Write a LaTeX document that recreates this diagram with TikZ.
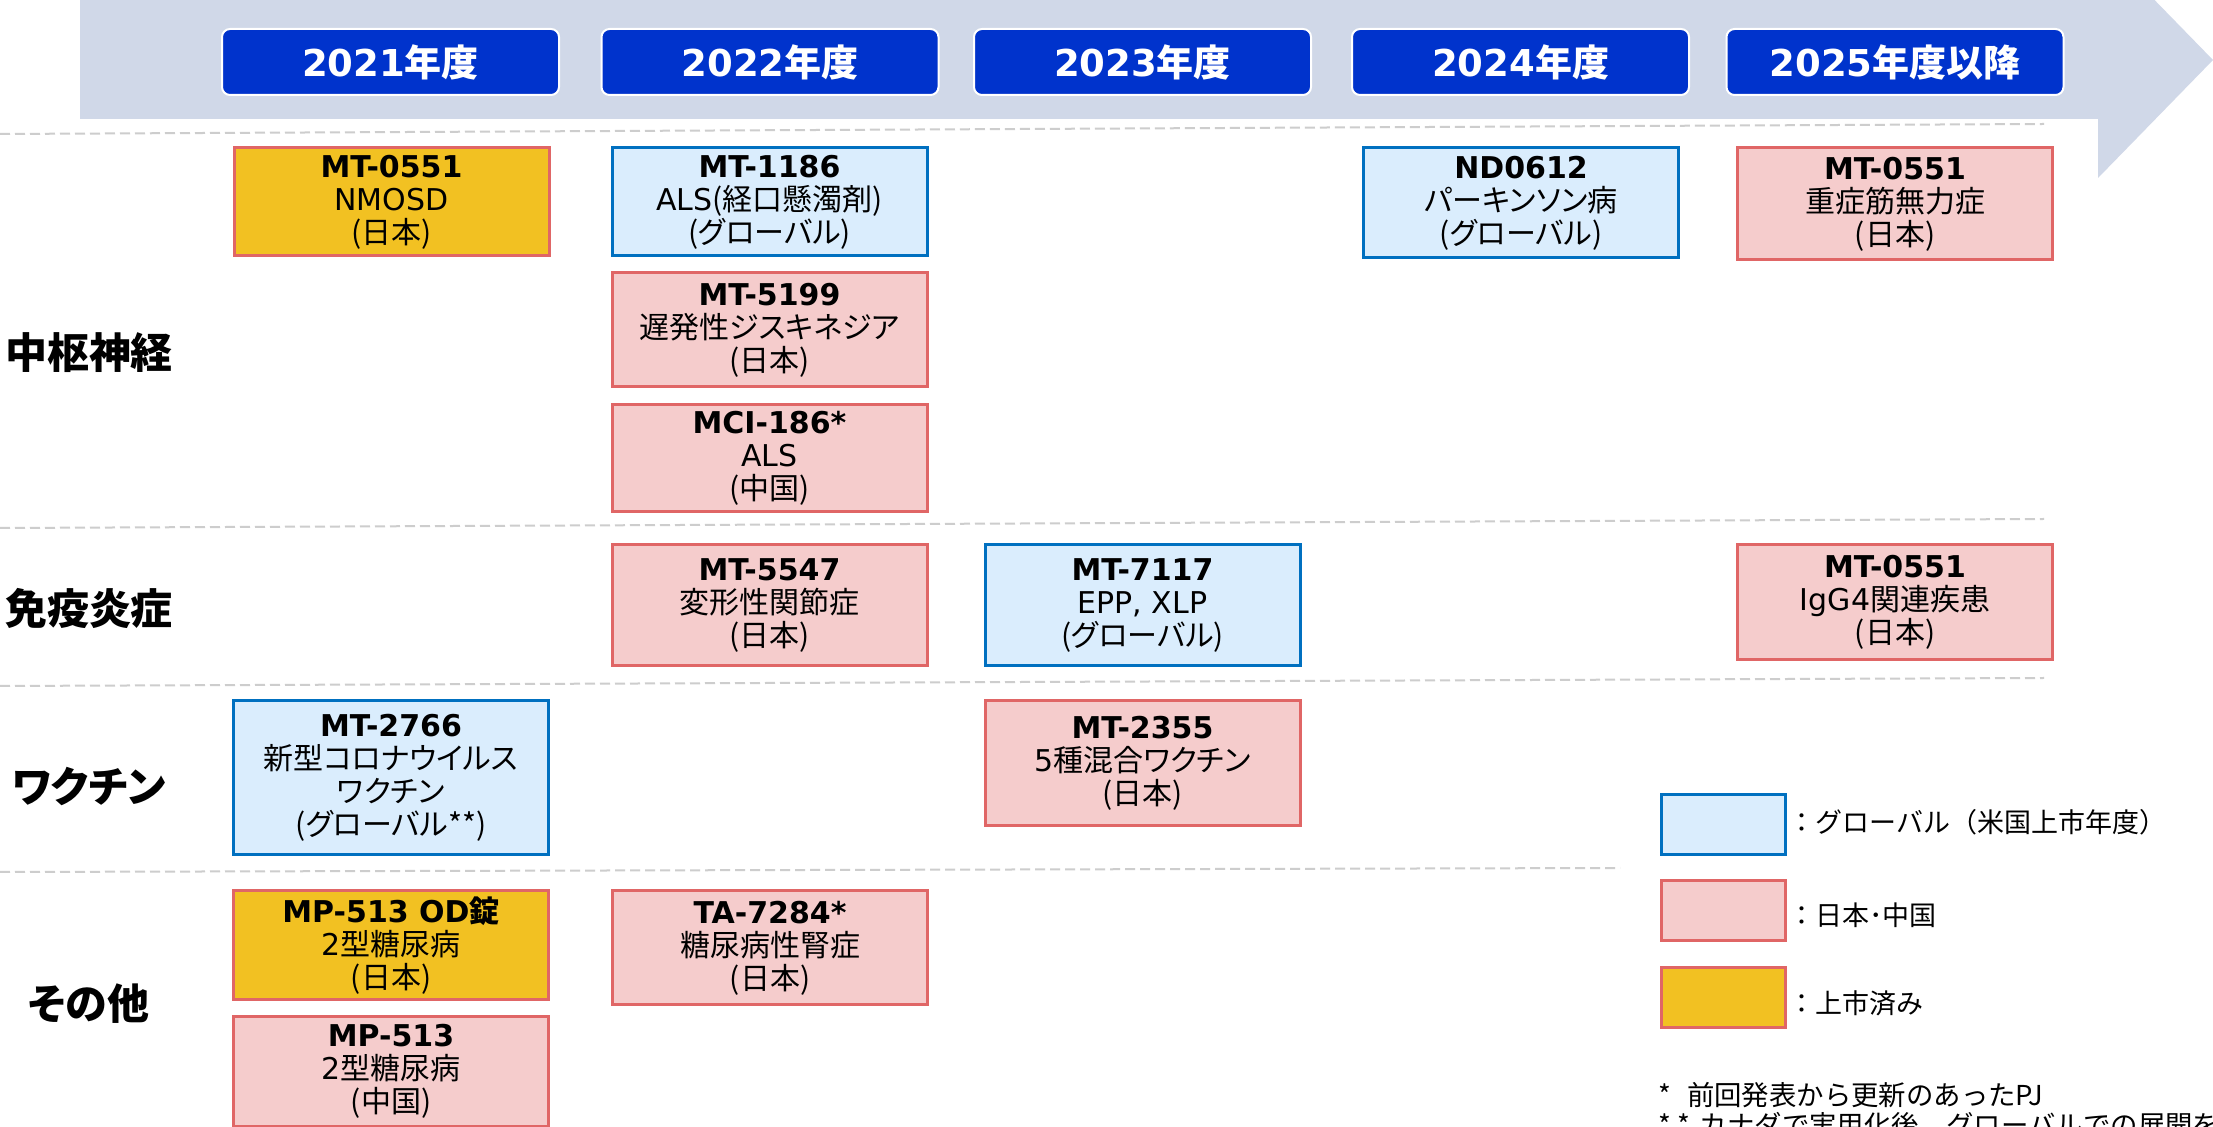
\documentclass[tikz,border=0pt]{standalone}
\usepackage{fontspec}
\setmainfont{DejaVu Sans}
\newfontfamily\jp{Noto Sans CJK JP}[RawFeature=+palt]
\newfontfamily\jpf{Noto Sans CJK JP}
\definecolor{band}{RGB}{208,216,232}
\definecolor{yearblue}{RGB}{0,51,204}
\definecolor{gfill}{RGB}{218,237,253}
\definecolor{gline}{RGB}{0,112,192}
\definecolor{pfill}{RGB}{245,204,204}
\definecolor{pline}{RGB}{224,102,102}
\definecolor{yfill}{RGB}{242,193,34}
\definecolor{dashgray}{RGB}{205,205,205}
\begin{document}
\begin{tikzpicture}[x=0.5pt,y=-0.5pt,
  yearbox/.style={draw=white, line width=1pt, fill=yearblue, rounded corners=4pt,
    minimum width=168.5pt, minimum height=33pt, text=white, inner sep=0pt,
    font=\bfseries\fontsize{18.5}{20}\selectfont},
  sep/.style={draw=dashgray, line width=1pt, dash pattern=on 5pt off 2.5pt},
  catlabel/.style={font=\jp\bfseries\fontsize{21}{24}\selectfont, inner sep=0pt},
  cbox/.style={line width=1.5pt, align=center, inner sep=0pt, minimum width=157.5pt,
    font=\fontsize{15}{16.5}\selectfont},
  pbox/.style={cbox, draw=pline, fill=pfill},
  gbox/.style={cbox, draw=gline, fill=gfill},
  ybox/.style={cbox, draw=pline, fill=yfill},
  legbox/.style={line width=1.5pt, minimum width=62pt, minimum height=30pt, inner sep=0pt},
  legtext/.style={font=\jpf\fontsize{13.5}{16}\selectfont, inner sep=0pt, anchor=west},
  note/.style={font=\jpf\fontsize{13.7}{16}\selectfont, inner sep=0pt, anchor=west}
]
\useasboundingbox (0,0) rectangle (2213,1127);
\fill[white] (0,0) rectangle (2213,1127);
% timeline band
\fill[band] (80,0) -- (2098,0) -- (2098,-58) -- (2213,60) -- (2098,178) -- (2098,119) -- (80,119) -- cycle;
% year labels
\node[yearbox] (y1) at (390.5,62) {2021{\jp 年度}};
\node[yearbox] (y2) at (770,62) {2022{\jp 年度}};
\node[yearbox] (y3) at (1142.5,62) {2023{\jp 年度}};
\node[yearbox] (y4) at (1520.5,62) {2024{\jp 年度}};
\node[yearbox] (y5) at (1895,62) {2025{\jp 年度以降}};
% separators
\draw[sep] (0,134) -- (2044,124);
\draw[sep] (0,528) -- (2044,519);
\draw[sep] (0,686) -- (2044,678);
\draw[sep] (0,872) -- (1620,868);
% category labels
\node[catlabel] (c1) at (89,353) {中枢神経};
\node[catlabel] (c2) at (89,608) {免疫炎症};
\node[catlabel] (c3) at (89,787) {ワクチン};
\node[catlabel] (c4) at (89,1004) {その他};
% row 1
\node[ybox, minimum height=54pt] (a1) at (391.5,202) {\textbf{MT-0551}\\NMOSD\\{\jp (日本)}};
\node[gbox, minimum height=54pt] (b1) at (769.5,202) {\textbf{MT-1186}\\ALS{\jp (経口懸濁剤)}\\{\jp (グローバル)}};
\node[pbox, minimum height=57pt] (b2) at (769.5,330) {\textbf{MT-5199}\\{\jp 遅発性ジスキネジア}\\{\jp (日本)}};
\node[pbox, minimum height=53.5pt] (b3) at (769.5,458.5) {\textbf{MCI-186*}\\ALS\\{\jp (中国)}};
\node[gbox, minimum height=55pt] (d1) at (1521,203) {\textbf{ND0612}\\{\jp パーキンソン病}\\{\jp (グローバル)}};
\node[pbox, minimum height=56pt] (e1) at (1895,204) {\textbf{MT-0551}\\{\jp 重症筋無力症}\\{\jp (日本)}};
% row 2
\node[pbox, minimum height=60.5pt] (b4) at (769.5,605.5) {\textbf{MT-5547}\\{\jp 変形性関節症}\\{\jp (日本)}};
\node[gbox, minimum height=60.5pt] (c5) at (1142.5,605.5) {\textbf{MT-7117}\\EPP, XLP\\{\jp (グローバル)}};
\node[pbox, minimum height=57.5pt] (e2) at (1895,602.5) {\textbf{MT-0551}\\IgG4{\jp 関連疾患}\\{\jp (日本)}};
% row 3
\node[gbox, minimum height=77pt] (a2) at (391,778) {\textbf{MT-2766}\\{\jp 新型コロナウイルス}\\{\jp ワクチン}\\{\jp (グローバル**)}};
\node[pbox, minimum height=62.5pt] (c6) at (1142.5,763.5) {\textbf{MT-2355}\\5{\jp 種混合ワクチン}\\{\jp (日本)}};
% row 4
\node[ybox, minimum height=54.5pt] (a3) at (391,945.5) {\textbf{MP-513 OD{\jp 錠}}\\2{\jp 型糖尿病}\\{\jp (日本)}};
\node[pbox, minimum height=57pt] (b5) at (770,948) {\textbf{TA-7284*}\\{\jp 糖尿病性腎症}\\{\jp (日本)}};
\node[pbox, minimum height=54.5pt] (a4) at (391,1071.5) {\textbf{MP-513}\\2{\jp 型糖尿病}\\{\jp (中国)}};
% legend
\node[legbox, draw=gline, fill=gfill] (lg1) at (1723,825) {};
\node[legbox, draw=pline, fill=pfill] (lg2) at (1723,910.5) {};
\node[legbox, draw=pline, fill=yfill] (lg3) at (1723,997.5) {};
\node[legtext] (lt1) at (1788,822) {：グローバル（米国上市年度）};
\node[legtext] (lt2) at (1788,915) {：日本･中国};
\node[legtext] (lt3) at (1788,1003) {：上市済み};
% footnotes
\node[note] (n1) at (1658,1095) {*\hspace{8pt}前回発表から更新のあったPJ};
\node[note] (n2) at (1658,1125) {*\hspace{3pt}*\hspace{5pt}カナダで実用化後、グローバルでの展開を想定};
\end{tikzpicture}
\end{document}
